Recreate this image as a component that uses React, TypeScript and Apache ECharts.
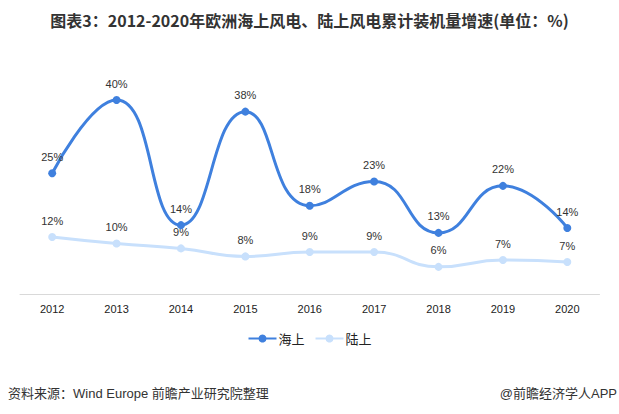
import React, { useEffect, useRef } from "react";
import * as echarts from "echarts";

const years = ["2012", "2013", "2014", "2015", "2016", "2017", "2018", "2019", "2020"];
const offshore = [24.9, 40.0, 14.2, 37.6, 18.2, 23.2, 12.6, 22.3, 13.6];
const onshore = [11.75, 10.4, 9.4, 7.75, 8.66, 8.66, 5.6, 7.0, 6.6];
const seriesNames = ["海上", "陆上"];
const titleText = "图表3：2012-2020年欧洲海上风电、陆上风电累计装机量增速(单位：%)";
const sourceText = "资料来源：Wind Europe 前瞻产业研究院整理";
const brandText = "@前瞻经济学人APP";

const FONT = "'Liberation Sans', 'Noto Sans CJK SC', sans-serif";

export default function App() {
  const ref = useRef<HTMLDivElement>(null);
  useEffect(() => {
    if (!ref.current) return;
    const chart = echarts.init(ref.current, undefined, { renderer: "svg" });
    const label = {
      show: true,
      position: "top",
      distance: 7,
      fontSize: 11,
      color: "#333",
      fontFamily: FONT,
      formatter: (p: any) => Math.round(p.value) + "%",
    };
    chart.setOption({
      animation: false,
      backgroundColor: "#ffffff",
      title: {
        text: titleText,
        left: "center",
        top: 12,
        padding: 0,
        textStyle: { fontSize: 16, fontWeight: "bold", color: "#333", fontFamily: "'Noto Sans CJK SC', sans-serif" },
      },
      legend: {
        data: seriesNames,
        top: 327,
        left: "center",
        itemWidth: 28,
        itemHeight: 10,
        itemGap: 10,
        textStyle: { fontSize: 13, color: "#222", fontFamily: "'Noto Sans CJK SC', sans-serif", padding: [0, 0, 0, -3] },
      },
      grid: { left: 20, right: 19.5, top: 100, bottom: 120 },
      xAxis: {
        type: "category",
        data: years,
        boundaryGap: true,
        axisTick: { show: false },
        axisLine: { lineStyle: { color: "#d9d9d9", width: 1 } },
        axisLabel: { fontSize: 11, color: "#222", margin: 9, fontFamily: FONT },
      },
      yAxis: { type: "value", min: 0, max: 40, show: false, splitLine: { show: false } },
      graphic: [
        {
          type: "text",
          left: 8,
          top: 387,
          style: { text: sourceText, fontSize: 13, fill: "#333", fontFamily: FONT },
        },
        {
          type: "text",
          right: 2,
          top: 387,
          style: { text: brandText, fontSize: 13, fill: "#333", fontFamily: FONT },
        },
      ],
      series: [
        {
          name: seriesNames[0],
          type: "line",
          data: offshore,
          smooth: true,
          symbol: "circle",
          symbolSize: 8,
          lineStyle: { width: 3, color: "#3f80de" },
          itemStyle: { color: "#3f80de" },
          label,
          z: 3,
        },
        {
          name: seriesNames[1],
          type: "line",
          data: onshore,
          smooth: true,
          symbol: "circle",
          symbolSize: 8,
          lineStyle: { width: 3, color: "#c8e0fc" },
          itemStyle: { color: "#c8e0fc" },
          label,
          z: 2,
        },
      ],
    });
    return () => chart.dispose();
  }, []);
  return (
    <div
      ref={ref}
      style={{ position: "fixed", left: 0, top: 0, width: 619, height: 414, background: "#fff" }}
    />
  );
}
